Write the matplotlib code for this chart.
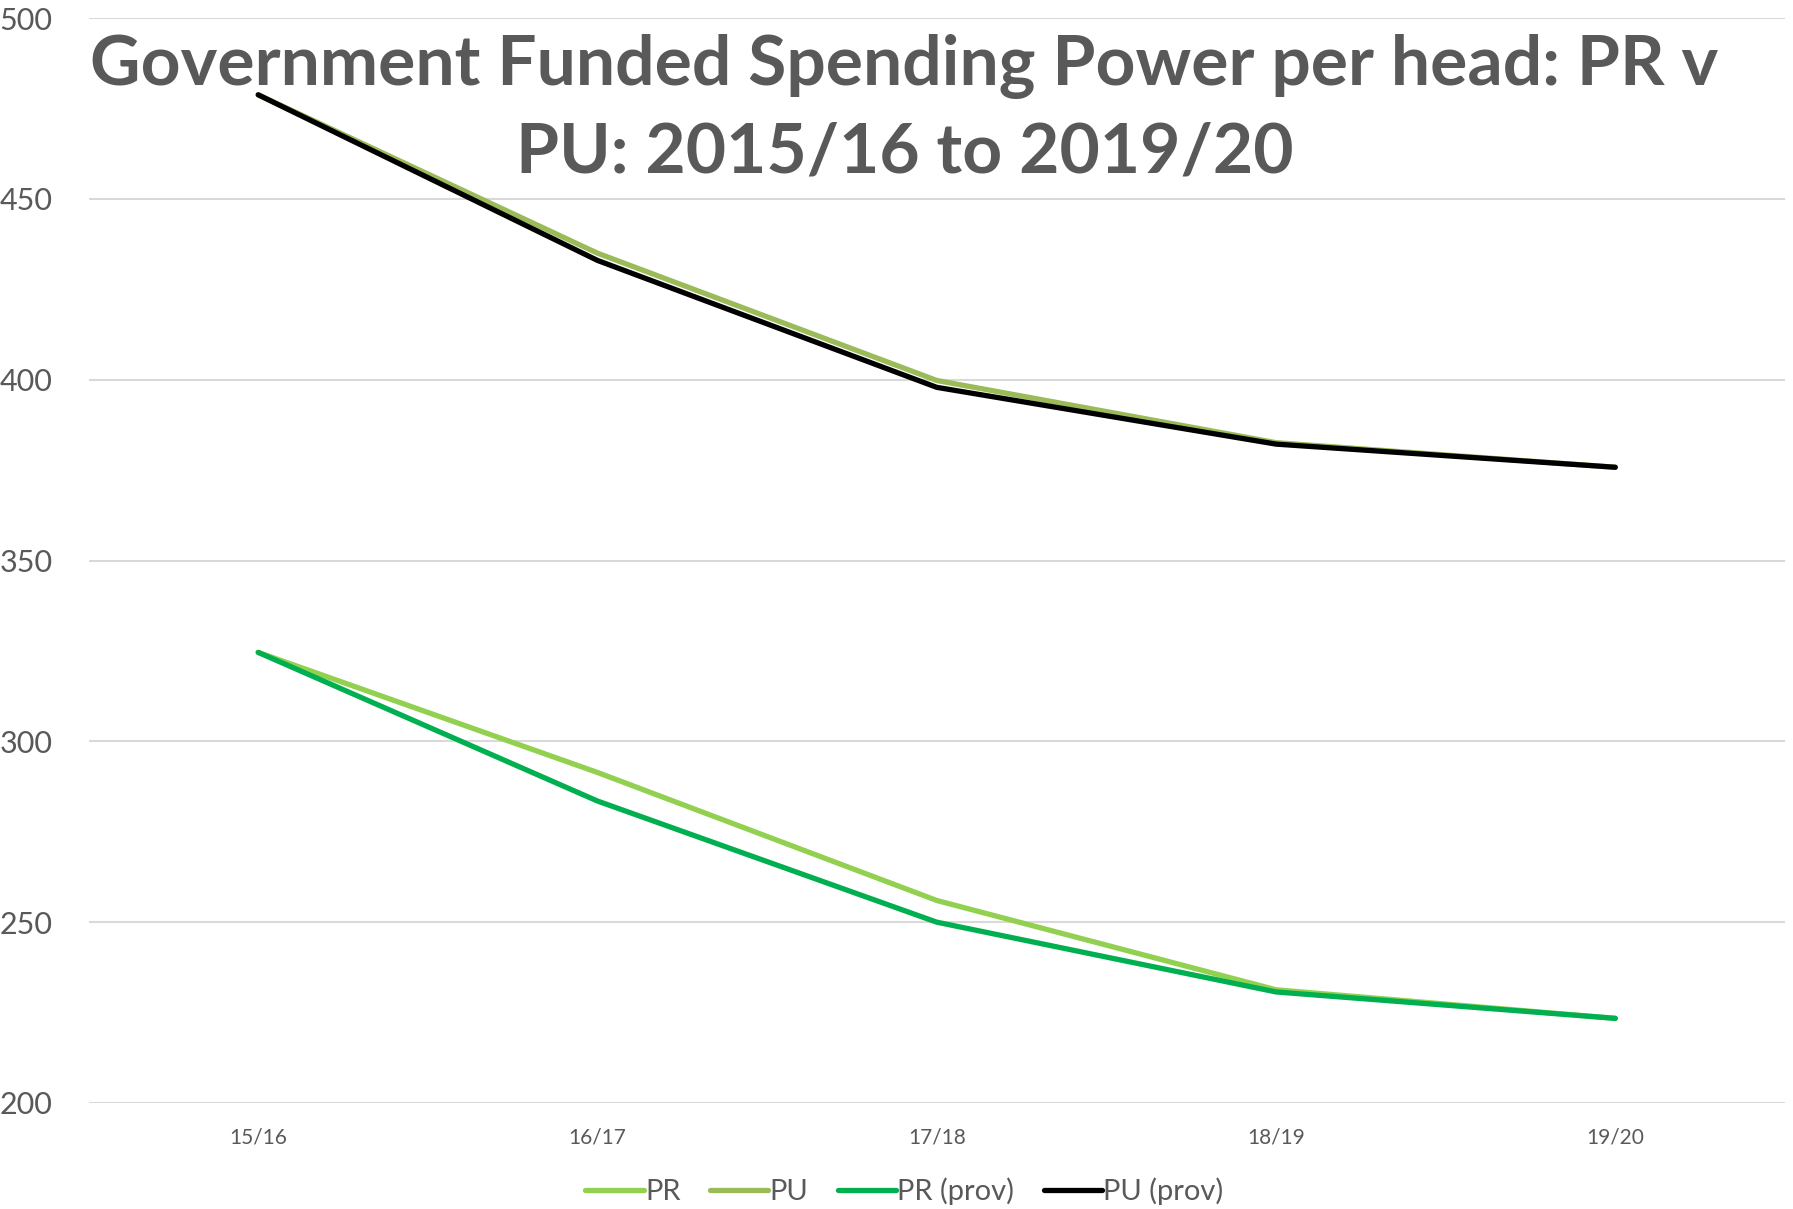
import matplotlib.pyplot as plt

plt.rcParams['font.family'] = ['Lato', 'DejaVu Sans']

years = ["15/16", "16/17", "17/18", "18/19", "19/20"]
pr = [324.6, 291.4, 256.0, 231.3, 223.4]
pu = [478.8, 435.0, 399.8, 382.6, 375.8]
pr_prov = [324.6, 283.5, 250.0, 230.7, 223.4]
pu_prov = [478.8, 433.0, 397.9, 382.2, 375.8]

text_col = '#595959'

fig = plt.figure(figsize=(17.93, 12.09), dpi=100)
ax = fig.add_axes([0.0494, 0.0877, 0.9461, 0.8973])

x = range(len(years))
ax.plot(x, pr, color='#92d050', lw=3.8, label='PR', solid_capstyle='round')
ax.plot(x, pu, color='#9bbb59', lw=3.8, label='PU', solid_capstyle='round')
ax.plot(x, pr_prov, color='#00b050', lw=3.8, label='PR (prov)', solid_capstyle='round')
ax.plot(x, pu_prov, color='#000000', lw=3.8, label='PU (prov)', solid_capstyle='round')

ax.set_xlim(-0.5, len(years) - 0.5)
ax.set_ylim(200, 500)
ax.set_yticks([200, 250, 300, 350, 400, 450, 500])
ax.set_xticks(list(x))
ax.set_xticklabels(years)
ax.grid(axis='y', color='#d9d9d9', lw=1.5)
ax.set_axisbelow(True)
for s in ax.spines.values():
    s.set_visible(False)
ax.tick_params(axis='y', length=0, labelsize=22, labelcolor=text_col, pad=26)
ax.tick_params(axis='x', length=0, labelsize=15, labelcolor=text_col, pad=18)

fig.text(0.5045, 0.9095, "Government Funded Spending Power per head: PR v\nPU: 2015/16 to 2019/20",
         ha='center', va='center', fontsize=50, fontweight='bold', color=text_col,
         linespacing=1.45)

leg = fig.legend(loc='center', bbox_to_anchor=(0.5045, 0.0145), ncol=4, frameon=False,
                 fontsize=21, handlelength=2.0, handletextpad=0.05, columnspacing=1.0)
for t in leg.get_texts():
    t.set_color(text_col)

fig.savefig('out.png', dpi=100)
